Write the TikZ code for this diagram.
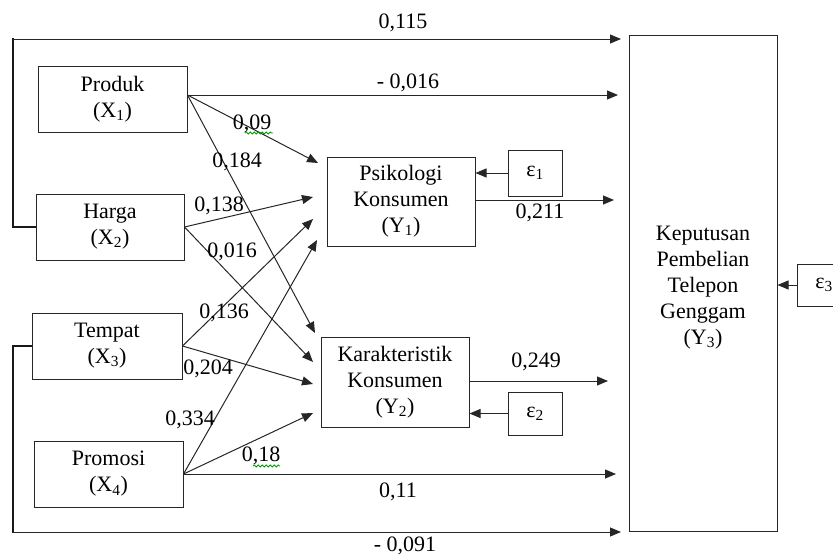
\documentclass[tikz,border=0pt]{standalone}
\usepackage{fontspec}
\setmainfont{Liberation Serif}
\usetikzlibrary{arrows.meta,decorations.pathmorphing,calc}
\begin{document}
\begin{tikzpicture}[x=1pt,y=-1pt,
  box/.style={draw=black!85,line width=1pt,rectangle,inner sep=0pt,align=center,font=\fontsize{22pt}{26pt}\selectfont},
  conn/.style={draw=black!85,line width=1pt,-{Triangle[length=11pt,width=9pt]}},
  brace/.style={draw=black!90,line width=2.4pt},
  lbl/.style={inner sep=0pt,font=\fontsize{22pt}{26pt}\selectfont},
  wavy/.style={draw=green!60!black,line width=0.8pt,decorate,decoration={snake,amplitude=1pt,segment length=4pt}}
]
\useasboundingbox (0,0) rectangle (833,555);
\clip (0,0) rectangle (833,555);

% boxes
\node[box,minimum width=149pt,minimum height=66pt] (X1) at (112.5,99) {Produk\\(X\textsubscript{1})};
\node[box,minimum width=148pt,minimum height=66pt] (X2) at (110,227) {Harga\\(X\textsubscript{2})};
\node[box,minimum width=150pt,minimum height=66pt] (X3) at (107,346) {Tempat\\(X\textsubscript{3})};
\node[box,minimum width=149pt,minimum height=66pt] (X4) at (108.5,474) {Promosi\\(X\textsubscript{4})};
\node[box,minimum width=148pt,minimum height=89pt] (Y1) at (401,201.5) {Psikologi\\Konsumen\\(Y\textsubscript{1})};
\node[box,minimum width=148pt,minimum height=90pt] (Y2) at (395,382) {Karakteristik\\Konsumen\\(Y\textsubscript{2})};
\node[box,minimum width=148pt,minimum height=496pt,
  label={[lbl,align=center,yshift=-5pt]center:Keputusan\\Pembelian\\Telepon\\Genggam\\(Y\textsubscript{3})}] (Y3) at (703,283) {};
\node[box,minimum width=54pt,minimum height=46pt] (E1) at (535,173) {ε\textsubscript{1}};
\node[box,minimum width=54pt,minimum height=43pt] (E2) at (535,413.5) {ε\textsubscript{2}};
\node[box,minimum width=54pt,minimum height=42pt] (E3) at (824,285) {ε\textsubscript{3}};

% free ends
\coordinate (L1) at (13,39);
\coordinate (L2) at (13,532);
\coordinate (T1) at (621,39);
\coordinate (T2) at (618,95);
\coordinate (T3) at (614,200);
\coordinate (T4) at (608,381);
\coordinate (T7) at (616,474);
\coordinate (T8) at (621,532);
\coordinate (A11) at (318,163);
\coordinate (A12) at (315,333);
\coordinate (A21) at (313,197);
\coordinate (A22) at (313,362);
\coordinate (A31) at (313,219);
\coordinate (A32) at (313,384);
\coordinate (A41) at (317,240);
\coordinate (A42) at (313,413);

% brackets
\draw[brace] (X2.west) -- (X2.west -| L1) -- ([yshift=1.2pt]L1);
\draw[conn] (L1) -- (T1);
\draw[brace] (X3.west) -- (X3.west -| L2) -- ([yshift=-1.2pt]L2);
\draw[conn] (L2) -- (T8);

% connectors
\draw[conn] ([yshift=4pt]X1.east) -- (T2);
\draw[conn] ([yshift=4pt]X1.east) -- (A11);
\draw[conn] ([yshift=4pt]X1.east) -- (A12);
\draw[conn] (X2.east) -- (A21);
\draw[conn] (X2.east) -- (A22);
\draw[conn] (X3.east) -- (A31);
\draw[conn] (X3.east) -- (A32);
\draw[conn] (X4.east) -- (A41);
\draw[conn] (X4.east) -- (A42);
\draw[conn] (X4.east) -- (T7);
\draw[conn] ([yshift=1.5pt]Y1.east) -- (T3);
\draw[conn] ([yshift=1pt]Y2.east) -- (T4);
\draw[conn] (E1.west) -- (E1.west -| Y1.east);
\draw[conn] (E2.west) -- (E2.west -| Y2.east);
\draw[conn] (E3.west) -- (E3.west -| Y3.east);

% labels
\node[lbl] (l115) at (403,23) {0,115};
\node[lbl] (l016a) at (408,83) {- 0,016};
\node[lbl] (l09) at (252,124) {0,09};
\node[lbl] (l184) at (237,162) {0,184};
\node[lbl] (l138) at (219,206) {0,138};
\node[lbl] (l016b) at (232,252) {0,016};
\node[lbl] (l136) at (224,313) {0,136};
\node[lbl] (l204) at (208,369) {0,204};
\node[lbl] (l334) at (190,420) {0,334};
\node[lbl] (l18) at (261,456) {0,18};
\node[lbl] (l11) at (398,492) {0,11};
\node[lbl] (l091) at (405,546) {- 0,091};
\node[lbl] (l211) at (540,213) {0,211};
\node[lbl] (l249) at (536,362) {0,249};

% spell-check underlines
\draw[wavy] (245,133) -- (273,133);
\draw[wavy] (253,466) -- (280,466);
\end{tikzpicture}
\end{document}
